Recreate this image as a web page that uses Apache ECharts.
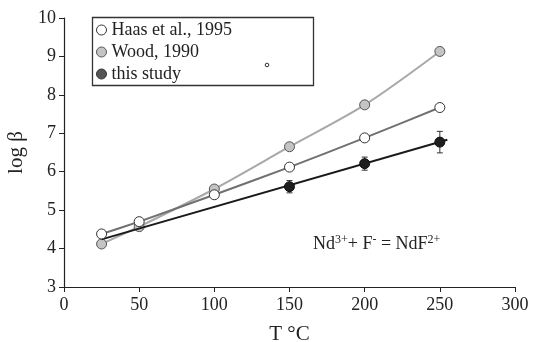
<!DOCTYPE html>
<html><head><meta charset="utf-8">
<script src="https://cdn.jsdelivr.net/npm/echarts@6/dist/echarts.min.js"></script>
<style>html,body{margin:0;padding:0;background:#fff}#c{width:535px;height:342px}</style>
</head><body><div id="c"></div>
<script>
const temps = [25, 50, 100, 150, 200, 250];
const haas = [4.38, 4.70, 5.40, 6.12, 6.88, 7.67];
const wood = [4.12, 4.57, 5.55, 6.65, 7.74, 9.13];
const studyT = [150, 200, 250];
const study = [5.61, 6.21, 6.77];
const studyErr = [0.16, 0.17, 0.28];
const fitT = [25, 255];
const fitV = [4.24, 6.83];
const xTicks = [0, 50, 100, 150, 200, 250, 300];
const yTicks = [3, 4, 5, 6, 7, 8, 9, 10];

const font = '"Liberation Serif", "Times New Roman", serif';
const chart = echarts.init(document.getElementById('c'));
const pair = (xs, ys) => xs.map((x, i) => [x, ys[i]]);

chart.setOption({
  animation: false,
  backgroundColor: '#fff',
  grid: {left: 64, right: 20, top: 18, bottom: 55, containLabel: false, outerBoundsMode: 'none'},
  xAxis: {
    type: 'value', min: xTicks[0], max: xTicks[xTicks.length - 1], interval: 50,
    name: 'T °C', nameLocation: 'middle', nameGap: 37,
    nameTextStyle: {fontFamily: font, fontSize: 21, color: '#222'},
    axisLine: {lineStyle: {color: '#222', width: 1.2}},
    axisTick: {length: 5, lineStyle: {color: '#222'}},
    axisLabel: {fontFamily: font, fontSize: 18, color: '#222', margin: 9},
    splitLine: {show: false}
  },
  yAxis: {
    type: 'value', min: yTicks[0], max: yTicks[yTicks.length - 1], interval: 1,
    name: 'log β', nameLocation: 'middle', nameGap: 34, nameRotate: 90,
    nameTextStyle: {fontFamily: font, fontSize: 21, color: '#222'},
    axisLine: {show: true, lineStyle: {color: '#222', width: 1.2}},
    axisTick: {show: true, length: 5, lineStyle: {color: '#222'}},
    axisLabel: {fontFamily: font, fontSize: 18, color: '#222', margin: 8},
    splitLine: {show: false}
  },
  legend: {
    orient: 'vertical', left: 91, top: 16, itemGap: 4,
    itemWidth: 10, itemHeight: 10,
    textStyle: {fontFamily: font, fontSize: 18, color: '#222'},
    data: [
      {name: 'Haas et al., 1995', icon: 'circle', itemStyle: {color: '#fff', borderColor: '#333', borderWidth: 1}},
      {name: 'Wood, 1990', icon: 'circle', itemStyle: {color: '#c4c4c4', borderColor: '#555', borderWidth: 1}},
      {name: 'this study', icon: 'circle', itemStyle: {color: '#555', borderColor: '#333', borderWidth: 1}}
    ]
  },
  graphic: [
    {type: 'rect', left: 90, top: 15, shape: {width: 221, height: 68}, style: {fill: 'none', stroke: '#333', lineWidth: 1.3}, z: 100},
    {type: 'circle', shape: {cx: 267, cy: 65, r: 1.8}, style: {fill: 'none', stroke: '#333', lineWidth: 1}, z: 100},
    {type: 'text', left: 313, top: 234, z: 100, style: {
      text: 'Nd{s|3+}+ F{s|-} = NdF{s|2+}',
      font: '18px ' + font, fill: '#222',
      rich: {s: {fontSize: 12, verticalAlign: 'top', padding: [0, 0, 9, 0], fontFamily: font}}
    }}
  ],
  series: [
    {
      name: 'Wood, 1990', type: 'line', data: pair(temps, wood), smooth: 0.3,
      lineStyle: {color: '#a8a8a8', width: 2}, symbol: 'circle', symbolSize: 10,
      itemStyle: {color: '#c4c4c4', borderColor: '#555', borderWidth: 1}, z: 2
    },
    {
      name: 'fit', type: 'line', data: pair(fitT, fitV), symbol: 'none',
      lineStyle: {color: '#1a1a1a', width: 2}, z: 3
    },
    {
      name: 'Haas et al., 1995', type: 'line', data: pair(temps, haas), smooth: 0.15,
      lineStyle: {color: '#707070', width: 2}, symbol: 'circle', symbolSize: 10,
      itemStyle: {color: '#fff', borderColor: '#333', borderWidth: 1}, z: 4
    },
    {
      name: 'err', type: 'custom', z: 5,
      data: studyT.map((t, i) => [t, study[i] - studyErr[i], study[i] + studyErr[i]]),
      renderItem: (params, api) => {
        const lo = api.coord([api.value(0), api.value(1)]);
        const hi = api.coord([api.value(0), api.value(2)]);
        const s = {stroke: '#333', lineWidth: 1};
        return {type: 'group', children: [
          {type: 'line', shape: {x1: lo[0], y1: lo[1], x2: hi[0], y2: hi[1]}, style: s},
          {type: 'line', shape: {x1: lo[0] - 3, y1: lo[1], x2: lo[0] + 3, y2: lo[1]}, style: s},
          {type: 'line', shape: {x1: hi[0] - 3, y1: hi[1], x2: hi[0] + 3, y2: hi[1]}, style: s}
        ]};
      }
    },
    {
      name: 'this study', type: 'scatter', data: pair(studyT, study), symbol: 'circle', symbolSize: 10,
      itemStyle: {color: '#1e1e1e', borderColor: '#111', borderWidth: 1, opacity: 1}, z: 6
    }
  ]
});
</script></body></html>
